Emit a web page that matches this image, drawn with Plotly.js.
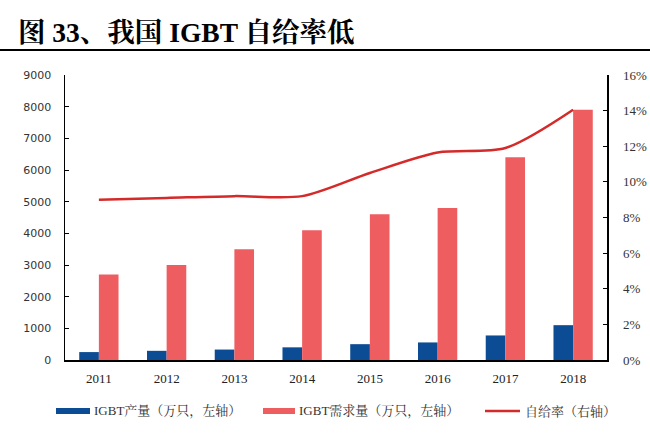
<!DOCTYPE html>
<html><head><meta charset="utf-8">
<script src="https://cdn.plot.ly/plotly-3.0.1.min.js"></script>
<style>body{margin:0;background:#fff}#c{width:650px;height:436px}</style>
</head><body><div id="c"></div>
<script>
const years = ['2011','2012','2013','2014','2015','2016','2017','2018'];
const production = [250, 290, 330, 400, 500, 555, 775, 1100];
const demand = [2700, 3000, 3500, 4100, 4600, 4800, 6400, 7900];
const selfRate = [0.090, 0.091, 0.092, 0.092, 0.105, 0.1165, 0.119, 0.1405];
const leftTicks = [0,1000,2000,3000,4000,5000,6000,7000,8000,9000];
const rightTicks = [0,0.02,0.04,0.06,0.08,0.10,0.12,0.14,0.16];
const seriesNames = ['IGBT产量（万只，左轴）','IGBT需求量（万只，左轴）','自给率（右轴）'];
const colors = ['#0B4C94','#EE5E61','#D42A2A'];

const W = 650, H = 436, ML = 65, MR = 43, MT = 75, MB = 76;
const pw = W - ML - MR, ph = H - MT - MB;
const px = x => (x - ML) / pw;
const py = y => (H - MB - y) / ph;

const serif = 'Liberation Serif, Noto Serif CJK SC, Noto Sans CJK SC, serif';
const traces = [
  {type:'bar', x:years, y:production, name:seriesNames[0], marker:{color:colors[0]}},
  {type:'bar', x:years, y:demand, name:seriesNames[1], marker:{color:colors[1]}},
  {type:'scatter', mode:'lines', x:years, y:selfRate, yaxis:'y2', name:seriesNames[2],
   line:{color:colors[2], width:2.5, shape:'spline', smoothing:0.8}}
];
const legendY = 411;
const shapes = [
  {type:'line', xref:'paper', yref:'paper', x0:px(-5), x1:px(655), y0:py(50), y1:py(50), line:{color:'#000', width:2}},
  {type:'rect', xref:'paper', yref:'paper', x0:px(56), x1:px(90), y0:py(408), y1:py(414), fillcolor:colors[0], line:{width:0}},
  {type:'rect', xref:'paper', yref:'paper', x0:px(263), x1:px(295), y0:py(408), y1:py(414), fillcolor:colors[1], line:{width:0}},
  {type:'line', xref:'paper', yref:'paper', x0:px(485), x1:px(520), y0:py(legendY), y1:py(legendY), line:{color:colors[2], width:2.5}}
];
const legFont = {family:serif, size:13, color:'#333'};
const annotations = [
  {xref:'paper', yref:'paper', x:px(92), y:py(legendY), xanchor:'left', yanchor:'middle', text:seriesNames[0], showarrow:false, font:legFont},
  {xref:'paper', yref:'paper', x:px(297), y:py(legendY), xanchor:'left', yanchor:'middle', text:seriesNames[1], showarrow:false, font:legFont},
  {xref:'paper', yref:'paper', x:px(523), y:py(legendY), xanchor:'left', yanchor:'middle', text:seriesNames[2], showarrow:false, font:legFont}
];
const layout = {
  width:W, height:H,
  margin:{l:ML, r:MR, t:MT, b:MB},
  paper_bgcolor:'#fff', plot_bgcolor:'#fff',
  barmode:'group', bargap:0.42, bargroupgap:0,
  showlegend:false,
  xaxis:{type:'category', showline:true, linecolor:'#000', linewidth:1.5, ticks:'',
    tickfont:{family:serif, size:13, color:'#222'}, ticklabelstandoff:6, showgrid:false, zeroline:false},
  yaxis:{range:[0,9000], tickvals:leftTicks, ticktext:leftTicks.map(String), showline:true, linecolor:'#000', linewidth:1.5,
    ticks:'inside', ticklen:4, tickcolor:'#000', showgrid:false, zeroline:false, ticklabelstandoff:10,
    tickfont:{family:'DejaVu Sans, sans-serif', size:11, color:'#333'}},
  yaxis2:{range:[0,0.16], tickvals:rightTicks, ticktext:rightTicks.map(v=>Math.round(v*100)+'%'), overlaying:'y', side:'right',
    showline:true, linecolor:'#000', linewidth:1.5, ticks:'inside', ticklen:4, tickcolor:'#000', ticklabelstandoff:12,
    showgrid:false, zeroline:false, tickfont:{family:serif, size:13, color:'#333'}},
  title:{text:'<b>图 33、我国 IGBT 自给率低</b>', x:18/W, xanchor:'left', y:1-32/H, yanchor:'middle',
    font:{family:serif, size:27.5, color:'#000'}},
  shapes, annotations
};
Plotly.newPlot('c', traces, layout, {displayModeBar:false, staticPlot:true});
</script></body></html>
